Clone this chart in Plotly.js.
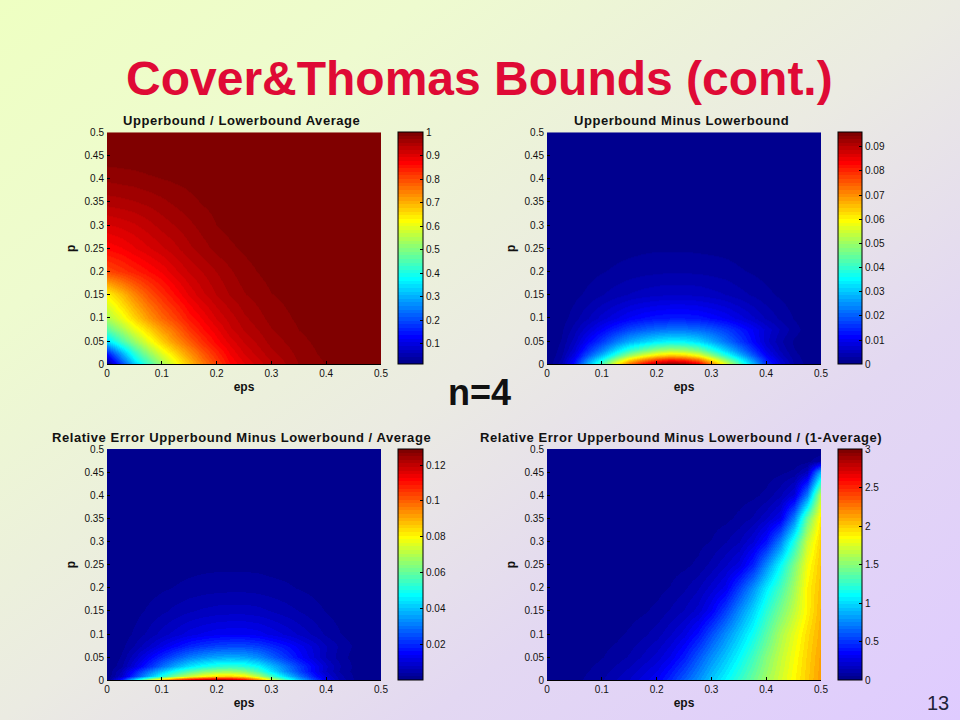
<!DOCTYPE html>
<html>
<head>
<meta charset="utf-8">
<script src="https://cdn.plot.ly/plotly-3.0.1.min.js"></script>
<style>
html,body{margin:0;padding:0;width:960px;height:720px;overflow:hidden}
body{background:linear-gradient(to bottom right,#EEFFC2 0%,#EEFBCF 22%,#EBEBE2 50%,#E3D8F2 72%,#DFCBFF 100%)}
#chart{width:960px;height:720px}
.annotation-text[data-unformatted*="bound"]{letter-spacing:0.56px}
</style>
</head>
<body>
<div id="chart"></div>
<script>
const slideTitle = "Cover&Thomas Bounds (cont.)";
const centerNote = "n=4";
const pageNumber = "13";
const panelTitles = [
  "Upperbound / Lowerbound Average",
  "Upperbound Minus Lowerbound",
  "Relative Error Upperbound Minus Lowerbound / Average",
  "Relative Error Upperbound Minus Lowerbound / (1-Average)"
];
const xTicks = [0,0.1,0.2,0.3,0.4,0.5];
const yTicks = [0,0.05,0.1,0.15,0.2,0.25,0.3,0.35,0.4,0.45,0.5];
const cbTicks1 = [0.1,0.2,0.3,0.4,0.5,0.6,0.7,0.8,0.9,1];
const cbTicks2 = [0,0.01,0.02,0.03,0.04,0.05,0.06,0.07,0.08,0.09];
const cbTicks3 = [0.02,0.04,0.06,0.08,0.1,0.12];
const cbTicks4 = [0,0.5,1,1.5,2,2.5,3];

const eps1 = [0,0.025,0.05,0.075,0.1,0.125,0.15,0.175,0.2,0.225,0.25,0.3,0.35,0.4,0.45,0.5];
const p1 = [0,0.025,0.05,0.075,0.1,0.15,0.2,0.25,0.3,0.35,0.4,0.45,0.5];
const z1 = [
 [0.013,0.18,0.32,0.43,0.53,0.61,0.68,0.75,0.81,0.86,0.89,0.935,0.97,0.985,0.995,1],
 [0.16,0.30,0.42,0.52,0.60,0.67,0.73,0.79,0.84,0.88,0.91,0.95,0.975,0.99,0.997,1],
 [0.34,0.44,0.52,0.60,0.67,0.73,0.78,0.83,0.87,0.90,0.925,0.96,0.98,0.992,0.998,1],
 [0.46,0.53,0.60,0.66,0.72,0.77,0.82,0.86,0.89,0.92,0.94,0.968,0.985,0.994,0.998,1],
 [0.54,0.60,0.66,0.72,0.77,0.81,0.85,0.88,0.91,0.93,0.95,0.975,0.988,0.995,0.998,1],
 [0.63,0.685,0.74,0.79,0.83,0.865,0.895,0.92,0.94,0.955,0.968,0.984,0.992,0.997,0.999,1],
 [0.80,0.82,0.84,0.86,0.88,0.905,0.925,0.94,0.955,0.967,0.979,0.991,0.995,0.998,1,1],
 [0.865,0.875,0.89,0.905,0.92,0.935,0.95,0.963,0.975,0.982,0.987,0.995,0.997,0.999,1,1],
 [0.905,0.912,0.92,0.932,0.945,0.955,0.965,0.976,0.985,0.989,0.992,0.997,0.998,1,1,1],
 [0.945,0.948,0.952,0.958,0.965,0.973,0.98,0.986,0.99,0.993,0.995,0.998,1,1,1,1],
 [0.973,0.976,0.978,0.982,0.985,0.988,0.99,0.993,0.995,0.997,0.998,1,1,1,1,1],
 [0.995,0.995,0.996,0.997,0.997,0.998,0.999,0.999,1,1,1,1,1,1,1,1],
 [1,1,1,1,1,1,1,1,1,1,1,1,1,1,1,1]
];

const epsFine = [0,0.025,0.05,0.075,0.1,0.125,0.15,0.175,0.2,0.225,0.25,0.275,0.3,0.325,0.35,0.375,0.4,0.425,0.45,0.475,0.5];
const p2 = [0,0.01,0.02,0.03,0.05,0.075,0.1,0.15,0.2,0.25,0.3,0.4,0.5];
const z2 = [
 [0,0.004,0.013,0.029,0.043,0.060,0.074,0.084,0.092,0.096,0.094,0.087,0.073,0.058,0.043,0.029,0.016,0.008,0.003,0.001,0],
 [0,0.0032,0.0108,0.024,0.036,0.05,0.0616,0.07,0.0768,0.08,0.0784,0.0724,0.0608,0.048,0.036,0.024,0.0134,0.0066,0.0024,0.0008,0],
 [0,0.0026,0.0088,0.0195,0.0293,0.0406,0.05,0.0569,0.0624,0.065,0.0637,0.0588,0.0494,0.039,0.0293,0.0195,0.0109,0.0054,0.002,0.0007,0],
 [0,0.0021,0.007,0.0156,0.0234,0.0325,0.04,0.0455,0.0499,0.052,0.051,0.0471,0.0395,0.0312,0.0234,0.0156,0.0087,0.0043,0.0016,0.0005,0],
 [0,0.0016,0.0052,0.0112,0.0165,0.0226,0.0275,0.0308,0.0336,0.035,0.0345,0.032,0.0275,0.0222,0.0168,0.0114,0.0065,0.0033,0.0012,0.0004,0],
 [0,0.0011,0.0037,0.0073,0.011,0.0145,0.0176,0.0198,0.0213,0.022,0.022,0.0211,0.0194,0.0169,0.0136,0.0103,0.007,0.0044,0.0022,0.0007,0],
 [0,0.0007,0.0023,0.0045,0.0068,0.0089,0.0108,0.0122,0.0131,0.0135,0.0135,0.013,0.0119,0.0104,0.0084,0.0063,0.0043,0.0027,0.0014,0.0004,0],
 [0,0.0003,0.001,0.0019,0.0029,0.0038,0.0046,0.0052,0.0056,0.0058,0.0058,0.0056,0.0051,0.0045,0.0036,0.0027,0.0019,0.0012,0.0006,0.0002,0],
 [0,0.0001,0.0005,0.0009,0.0014,0.0018,0.0022,0.0025,0.0027,0.0028,0.0028,0.0027,0.0025,0.0022,0.0017,0.0013,0.0009,0.0006,0.0003,0.0001,0],
 [0,0.0001,0.0002,0.0004,0.0006,0.0009,0.001,0.0012,0.0013,0.0013,0.0013,0.0012,0.0011,0.001,0.0008,0.0006,0.0004,0.0003,0.0001,0,0],
 [0,0,0.0001,0.0002,0.0003,0.0004,0.0005,0.0005,0.0006,0.0006,0.0006,0.0006,0.0005,0.0005,0.0004,0.0003,0.0002,0.0001,0.0001,0,0],
 [0,0,0,0,0,0,0,0,0,0,0,0,0,0,0,0,0,0,0,0,0],
 [0,0,0,0,0,0,0,0,0,0,0,0,0,0,0,0,0,0,0,0,0]
];

const z3 = [
 [0,0.019,0.046,0.072,0.095,0.11,0.12,0.126,0.129,0.127,0.117,0.099,0.078,0.058,0.04,0.025,0.013,0.0055,0.002,0.0006,0],
 [0,0.0077,0.0213,0.0366,0.051,0.0638,0.0731,0.0799,0.0842,0.085,0.0816,0.0706,0.0561,0.0425,0.0298,0.0187,0.0102,0.0047,0.0017,0.0005,0],
 [0,0.006,0.0168,0.0288,0.0402,0.0503,0.0576,0.063,0.0663,0.067,0.0643,0.0556,0.0442,0.0335,0.0235,0.0147,0.008,0.0037,0.0013,0.0004,0],
 [0,0.0032,0.0106,0.0196,0.0286,0.0371,0.044,0.0488,0.0519,0.053,0.0519,0.0472,0.0392,0.0307,0.0223,0.0148,0.0085,0.0042,0.0016,0.0005,0],
 [0,0.0022,0.0074,0.0137,0.02,0.0259,0.0307,0.034,0.0363,0.037,0.0363,0.0329,0.0274,0.0215,0.0155,0.0104,0.0059,0.003,0.0011,0.0004,0],
 [0,0.0012,0.0041,0.0079,0.012,0.0158,0.0192,0.0216,0.0233,0.024,0.024,0.0226,0.0199,0.0168,0.0132,0.0096,0.0062,0.0036,0.0017,0.0005,0],
 [0,0.0007,0.0024,0.0046,0.007,0.0092,0.0112,0.0126,0.0136,0.014,0.014,0.0132,0.0116,0.0098,0.0077,0.0056,0.0036,0.0021,0.001,0.0003,0],
 [0,0.0004,0.0012,0.0024,0.0036,0.0048,0.0058,0.0065,0.007,0.0072,0.0072,0.0068,0.006,0.005,0.004,0.0029,0.0019,0.0011,0.0005,0.0001,0],
 [0,0.0002,0.0006,0.0011,0.0017,0.0022,0.0027,0.0031,0.0033,0.0034,0.0034,0.0032,0.0028,0.0024,0.0019,0.0014,0.0009,0.0005,0.0002,0.0001,0],
 [0,0.0001,0.0003,0.0005,0.0008,0.001,0.0012,0.0014,0.0015,0.0015,0.0015,0.0014,0.0012,0.0011,0.0008,0.0006,0.0004,0.0002,0.0001,0,0],
 [0,0,0.0001,0.0002,0.0004,0.0005,0.0006,0.0006,0.0007,0.0007,0.0007,0.0007,0.0006,0.0005,0.0004,0.0003,0.0002,0.0001,0,0,0],
 [0,0,0,0,0,0,0,0,0,0,0,0,0,0,0,0,0,0,0,0,0],
 [0,0,0,0,0,0,0,0,0,0,0,0,0,0,0,0,0,0,0,0,0]
];

const p4 = [0,0.05,0.1,0.15,0.2,0.25,0.3,0.35,0.4,0.45,0.475,0.5];
const z4 = [
 [0,0.008,0.03,0.06,0.09,0.14,0.19,0.26,0.33,0.46,0.62,0.78,0.94,1.09,1.25,1.41,1.57,1.72,1.865,2.0,2.15],
 [0,0.003,0.012,0.025,0.045,0.07,0.10,0.15,0.21,0.29,0.42,0.6,0.77,0.93,1.1,1.29,1.49,1.67,1.83,1.98,2.13],
 [0,0.001,0.005,0.012,0.023,0.034,0.055,0.082,0.12,0.18,0.26,0.39,0.57,0.76,0.95,1.14,1.36,1.6,1.78,1.95,2.1],
 [0,0.0005,0.002,0.005,0.011,0.018,0.026,0.04,0.06,0.10,0.145,0.21,0.33,0.53,0.76,0.98,1.22,1.45,1.67,1.88,2.08],
 [0,0.0002,0.001,0.002,0.005,0.009,0.016,0.023,0.03,0.05,0.085,0.135,0.21,0.30,0.53,0.78,1.05,1.3,1.58,1.88,2.05],
 [0,0,0.0005,0.001,0.002,0.004,0.008,0.013,0.018,0.026,0.036,0.058,0.11,0.18,0.26,0.45,0.76,1.1,1.47,1.82,2.03],
 [0,0,0,0.0005,0.001,0.002,0.004,0.006,0.01,0.014,0.02,0.032,0.05,0.09,0.14,0.24,0.40,0.73,1.2,1.7,2.0],
 [0,0,0,0,0.0005,0.001,0.002,0.003,0.005,0.007,0.01,0.016,0.023,0.032,0.06,0.10,0.18,0.29,0.72,1.4,1.93],
 [0,0,0,0,0,0.0005,0.001,0.0015,0.002,0.003,0.005,0.008,0.012,0.016,0.022,0.035,0.06,0.13,0.25,0.72,1.7],
 [0,0,0,0,0,0,0,0.0005,0.001,0.001,0.002,0.003,0.004,0.006,0.008,0.012,0.02,0.035,0.06,0.16,0.9],
 [0,0,0,0,0,0,0,0,0,0,0,0.001,0.001,0.002,0.003,0.004,0.006,0.01,0.016,0.03,0.1],
 [0,0,0,0,0,0,0,0,0,0,0,0,0,0,0,0,0,0,0,0,0]
];

// The classic 64-step "jet" palette: hard colour steps, as in the reference.
const jetAnchors = [[0,0,0,143],[7,0,0,255],[23,0,255,255],[39,255,255,0],[55,255,0,0],[63,128,0,0]];
function jetColor(i){
  for(let k=1;k<jetAnchors.length;k++){
    const a=jetAnchors[k-1], b=jetAnchors[k];
    if(i<=b[0]){
      const f=(i-a[0])/(b[0]-a[0]);
      return 'rgb('+[1,2,3].map(c=>Math.round(a[c]+(b[c]-a[c])*f)).join(',')+')';
    }
  }
  return 'rgb(128,0,0)';
}
const jet = [];
for(let i=0;i<64;i++){
  const c=jetColor(i);
  jet.push([i/64,c],[(i+1)/64,c]);
}

const W = 960, H = 720;
const sans = '"Liberation Sans", Arial, sans-serif';
const panels = [
 {x:eps1,   y:p1, z:z1, zmin:0.013, zmax:1,     cb:cbTicks1, l:107, r:381, t:132.3, b:364.3, cl:397.5, cw:25},
 {x:epsFine,y:p2, z:z2, zmin:0,     zmax:0.096, cb:cbTicks2, l:547, r:821, t:132.3, b:364.3, cl:837.5, cw:24},
 {x:epsFine,y:p2, z:z3, zmin:0,     zmax:0.129, cb:cbTicks3, l:107, r:381, t:449,   b:680.3, cl:397.5, cw:25},
 {x:epsFine,y:p4, z:z4, zmin:0,     zmax:3,     cb:cbTicks4, l:547, r:821, t:449,   b:680.3, cl:837.5, cw:24}
];

const tickFont = {family:sans, size:10, color:'#111'};
const labelFont = {family:sans, size:12, color:'#111', weight:'bold'};
const data = [], layout = {
  width:W, height:H, margin:{l:0,r:0,t:0,b:0},
  paper_bgcolor:'rgba(0,0,0,0)', plot_bgcolor:'rgba(0,0,0,0)',
  showlegend:false, annotations:[
    {text:'<b>'+slideTitle+'</b>', xref:'paper', yref:'paper', x:479/W, y:1-78/H, xanchor:'center', yanchor:'middle', showarrow:false,
     font:{family:sans, size:48, color:'#DF0A35'}},
    {text:'<b>'+centerNote+'</b>', xref:'paper', yref:'paper', x:479/W, y:1-393/H, xanchor:'center', yanchor:'middle', showarrow:false,
     font:{family:sans, size:36, color:'#111'}},
    {text:pageNumber, xref:'paper', yref:'paper', x:938/W, y:1-703/H, xanchor:'center', yanchor:'middle', showarrow:false,
     font:{family:sans, size:20, color:'#222238'}}
  ]
};
panels.forEach((q,i)=>{
  const n = i===0 ? '' : String(i+1);
  data.push({
    type:'heatmap', x:q.x, y:q.y, z:q.z, xaxis:'x'+n, yaxis:'y'+n,
    zmin:q.zmin, zmax:q.zmax, zsmooth:'best', colorscale:jet, hoverinfo:'skip',
    colorbar:{
      x:q.cl/W, xanchor:'left', xpad:0, ypad:0,
      y:1-q.t/H, yanchor:'top', len:(q.b-q.t)/H, lenmode:'fraction',
      thickness:q.cw, thicknessmode:'pixels',
      outlinecolor:'#000', outlinewidth:1, borderwidth:0,
      ticks:'inside', ticklen:3, tickcolor:'#000', tickwidth:1,
      tickmode:'array', tickvals:q.cb, ticktext:q.cb.map(String),
      tickfont:tickFont
    }
  });
  layout['xaxis'+n] = {
    domain:[q.l/W,q.r/W], range:[0,0.5], anchor:'y'+n,
    tickmode:'array', tickvals:xTicks, ticktext:xTicks.map(String),
    ticks:'inside', ticklen:3, tickcolor:'#000', tickfont:tickFont,
    showline:true, linecolor:'#000', linewidth:1, showgrid:false, zeroline:false,
    title:{text:'eps', font:labelFont, standoff:4}
  };
  layout['yaxis'+n] = {
    domain:[1-q.b/H,1-q.t/H], range:[0,0.5], anchor:'x'+n,
    tickmode:'array', tickvals:yTicks, ticktext:yTicks.map(String),
    ticks:'inside', ticklen:3, tickcolor:'#000', tickfont:tickFont, ticklabelstandoff:2,
    showline:false, showgrid:false, zeroline:false,
    title:{text:'p', font:labelFont, standoff:6}
  };
  layout.annotations.push({
    text:'<b>'+panelTitles[i]+'</b>', xref:'paper', yref:'paper',
    x:((q.l+q.r)/2-3)/W, y:1-(q.t-11.5)/H, xanchor:'center', yanchor:'middle', showarrow:false,
    font:{family:sans, size:13, color:'#111'}
  });
});
Plotly.newPlot('chart', data, layout, {displayModeBar:false, staticPlot:true});
</script>
</body>
</html>
